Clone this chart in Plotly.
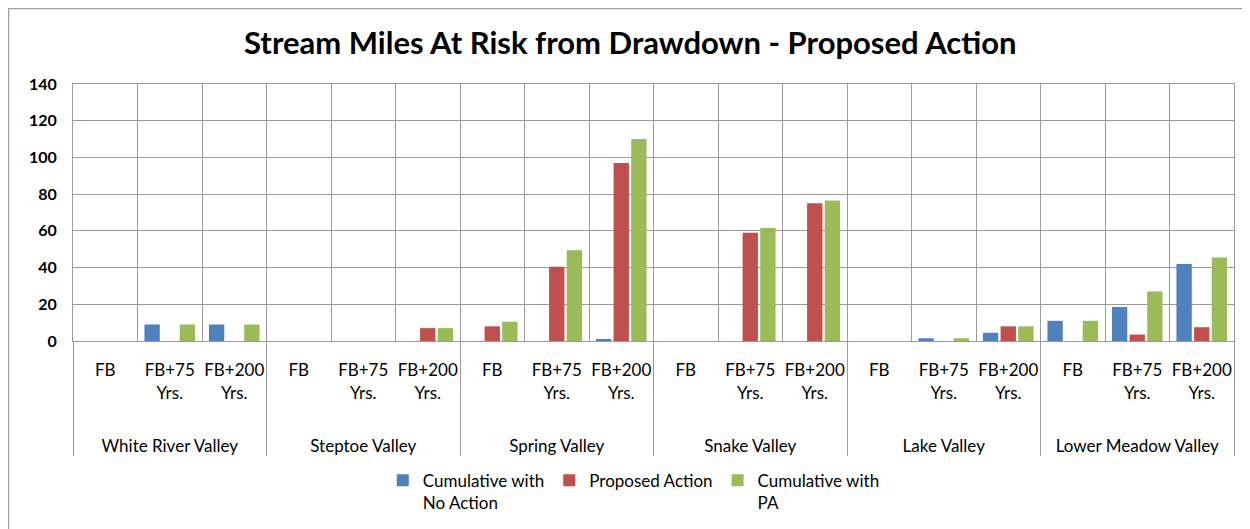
import plotly.graph_objects as go

valleys = ["White River Valley", "Steptoe Valley", "Spring Valley",
           "Snake Valley", "Lake Valley", "Lower Meadow Valley"]
periods = ["FB<br> <br> <br> ", "FB+75<br>Yrs.<br> <br> ", "FB+200<br>Yrs.<br> <br> "]

no_action = [0, 9, 9,   0, 0, 0,   0, 0, 1,    0, 0, 0,    0, 1.5, 4.5,  11, 18.5, 42]
proposed  = [0, 0, 0,   0, 0, 7,   8, 40.5, 97, 0, 59, 75, 0, 0, 8,     0, 3.5, 7.5]
cum_pa    = [0, 9, 9,   0, 0, 7,   10.5, 49.5, 110, 0, 61.5, 76.5, 0, 1.5, 8,  11, 27, 45.5]

series = [
    ("Cumulative with<br>No Action", no_action, "#4F81BD"),
    ("Proposed Action", proposed, "#C0504D"),
    ("Cumulative with<br>PA", cum_pa, "#9BBB59"),
]

x_outer = [v for v in valleys for _ in periods]
x_inner = [p for _ in valleys for p in periods]

FONT = "Lato"
GRID = "#9a9a9a"

fig = go.Figure()
for name, vals, col in series:
    fig.add_trace(go.Bar(x=[x_outer, x_inner], y=vals, name=name,
                         marker=dict(color=col, line=dict(width=0))))

fig.update_layout(
    width=1242, height=521,
    paper_bgcolor="white", plot_bgcolor="white",
    margin=dict(l=65, r=16, t=76, b=188, autoexpand=False),
    barmode="group", bargap=0.18, bargroupgap=0.13,
    font=dict(family=FONT, color="black"),
    title=dict(text="<b>Stream Miles At Risk from Drawdown - Proposed Action</b>",
               x=0.501, xanchor="center", y=0.933, yanchor="middle",
               font=dict(size=31, family=FONT, color="black")),
    legend=dict(orientation="h", x=0.483, xanchor="center", y=-0.474, yanchor="top",
                valign="top", font=dict(size=17, family=FONT, color="black"),
                itemwidth=30, traceorder="normal"),
    showlegend=True,
)
fig.update_xaxes(
    type="multicategory", tickson="boundaries", showgrid=True, gridcolor=GRID,
    gridwidth=1, showline=True, linecolor=GRID, mirror=True,
    showdividers=True, dividercolor=GRID, dividerwidth=1,
    ticks="", tickangle=0, tickfont=dict(size=17, family=FONT, color="black"),
    ticklabelstandoff=14, automargin=False,
)
fig.update_yaxes(
    range=[0, 140], dtick=20, showgrid=True, gridcolor=GRID, gridwidth=1,
    showline=True, linecolor=GRID, mirror=True, zeroline=False,
    ticks="", ticklen=0, tickfont=dict(size=16, family=FONT, color="black"),
    tickprefix="<b>", ticksuffix="</b>",
    ticklabelstandoff=12, automargin=False,
)
fig.add_shape(type="rect", xref="paper", yref="paper",
              x0=-64.5 / 1161, x1=1.05, y0=-1.0, y1=1 + 75.5 / 257,
              line=dict(color="#a0a0a0", width=1.5), fillcolor="rgba(0,0,0,0)")
fig.write_html("out.html")
